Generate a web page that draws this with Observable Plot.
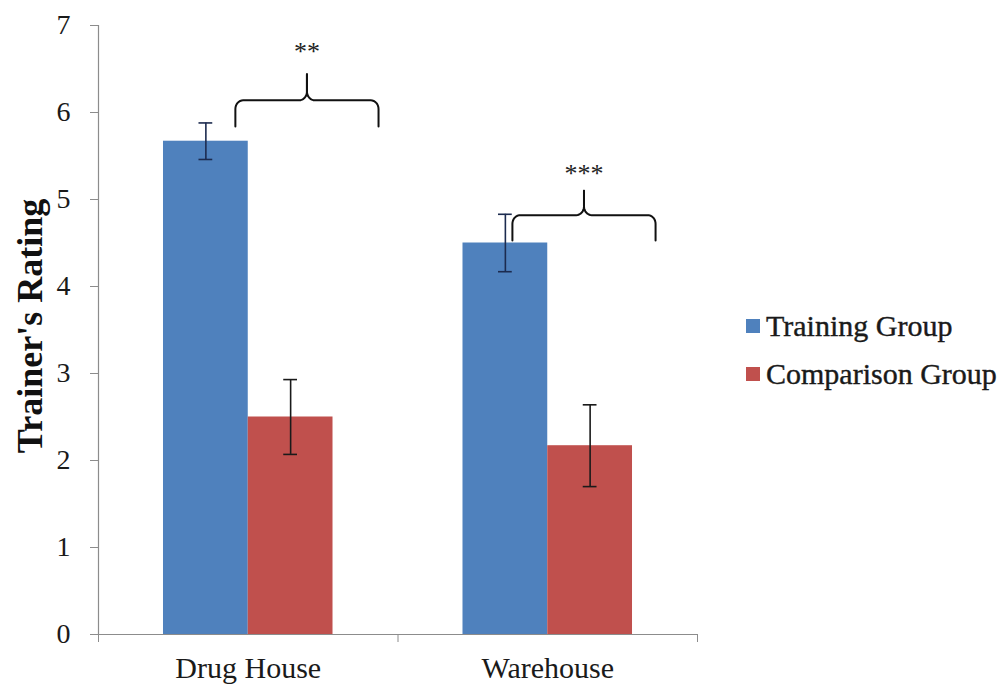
<!DOCTYPE html>
<html>
<head>
<meta charset="utf-8">
<script src="https://cdn.jsdelivr.net/npm/d3@7"></script>
<script src="https://cdn.jsdelivr.net/npm/@observablehq/plot@0.6"></script>
<style>
  html, body { margin: 0; padding: 0; background: #fff; }
  #wrap { position: relative; width: 1006px; height: 684px; }
  #legend { position: absolute; left: 746px; top: 302px; font-family: "Liberation Serif", serif; font-size: 30px; color: #1a1a1a; -webkit-text-stroke: 0.4px #1a1a1a; }
  .item { display: flex; align-items: center; height: 48px; white-space: nowrap; }
  .sw { width: 14px; height: 14px; margin-right: 6px; display: inline-block; }
</style>
</head>
<body>
<div id="wrap"><div id="legend"></div></div>
<script>
// ---- data ----
const categories = ["Drug House", "Warehouse"];
const groups = ["Training Group", "Comparison Group"];
const trainingMeans = [5.67, 4.50];
const comparisonMeans = [2.50, 2.17];
const trainingErr = [0.21, 0.33];
const comparisonErr = [0.43, 0.47];
const groupColors = ["#4f81bd", "#c0504d"];
const errColors = ["#1c2b4f", "#1a1a1a"];
const yTicks = [0, 1, 2, 3, 4, 5, 6, 7];
const yLabel = "Trainer's Rating";

// significance annotations (x in category units, y in rating units)
const significance = ["**", "***"];
const braceStart = [0.457, 1.382];
const braceEnd = [0.935, 1.860];
const braceFoot = [5.84, 4.53];
const braceBar = [6.14, 4.82];
const bracePeak = [6.44, 5.10];
const starY = [6.70, 5.30];

// ---- build tables ----
const barW = 0.283;
const series = [trainingMeans, comparisonMeans];
const errs = [trainingErr, comparisonErr];
const bars = [];
categories.forEach((c, i) => {
  groups.forEach((g, j) => {
    const x1 = i + 0.5 - barW + j * barW;
    bars.push({category: c, group: g, x1, x2: x1 + barW, xc: x1 + barW / 2,
      value: series[j][i], lo: series[j][i] - errs[j][i], hi: series[j][i] + errs[j][i],
      fill: groupColors[j], errColor: errColors[j]});
  });
});

// curly braces
const rx = 0.026, ry = 0.10, steps = 8;
const braces = [];
function arc(id, cx, cy, a0, a1) {
  for (let k = 0; k <= steps; k++) {
    const t = (a0 + (a1 - a0) * k / steps) * Math.PI / 180;
    braces.push({id, x: cx + rx * Math.cos(t), y: cy + ry * Math.sin(t)});
  }
}
significance.forEach((s, i) => {
  const x0 = braceStart[i], x1 = braceEnd[i], xc = (x0 + x1) / 2;
  const yb = braceFoot[i], yh = braceBar[i], yp = bracePeak[i];
  const L = "L" + i, R = "R" + i;
  braces.push({id: L, x: x0, y: yb});
  arc(L, x0 + rx, yh - ry, 180, 90);
  arc(L, xc - rx, yh + ry, -90, 0);
  braces.push({id: L, x: xc, y: yp});
  braces.push({id: R, x: xc, y: yp});
  arc(R, xc + rx, yh + ry, 180, 270);
  arc(R, x1 - rx, yh - ry, 90, 0);
  braces.push({id: R, x: x1, y: yb});
});

const axisGray = "#8c8c8c";

const chart = Plot.plot({
  width: 1006,
  height: 684,
  marginLeft: 98,
  marginRight: 309,
  marginTop: 25,
  marginBottom: 50,
  x: {domain: [0, 2], axis: null},
  y: {domain: [0, 7], axis: null},
  style: {fontFamily: "'Liberation Serif', serif", background: "#fff", color: "#1a1a1a"},
  marks: [
    Plot.rectY(bars, {x1: "x1", x2: "x2", y: "value", fill: "fill"}),
    Plot.ruleX(bars, {x: "xc", y1: "lo", y2: "hi", stroke: "errColor", strokeWidth: 1.6}),
    Plot.ruleY(bars, {y: "lo", x1: d => d.xc - 0.023, x2: d => d.xc + 0.023, stroke: "errColor", strokeWidth: 1.6}),
    Plot.ruleY(bars, {y: "hi", x1: d => d.xc - 0.023, x2: d => d.xc + 0.023, stroke: "errColor", strokeWidth: 1.6}),
    Plot.ruleX([0], {y1: 0, y2: 7, stroke: axisGray, strokeWidth: 1.2}),
    Plot.ruleY([0], {x1: 0, x2: 2, stroke: axisGray, strokeWidth: 1.2}),
    Plot.axisY(yTicks, {tickSize: 8, tickPadding: 20, fontSize: 28, stroke: axisGray, fill: "#1a1a1a", label: null, tickFormat: d3.format("d")}),
    Plot.axisX([0, 1, 2], {tickSize: 8, tickFormat: () => "", stroke: axisGray, label: null}),
    Plot.axisX([0.5, 1.5], {tickSize: 0, tickPadding: 22, fontSize: 30, fill: "#1a1a1a", label: null,
      tickFormat: d => categories[Math.floor(d)]}),
    Plot.line(braces, {x: "x", y: "y", z: "id", stroke: "#111", strokeWidth: 2}),
    Plot.text(significance, {x: (d, i) => (braceStart[i] + braceEnd[i]) / 2, y: (d, i) => starY[i], text: d => d, fontSize: 26, fill: "#222"}),
    Plot.text([yLabel], {frameAnchor: "left", textAnchor: "middle", rotate: -90, dx: -68, dy: -4, text: d => d, fontSize: 36, fontWeight: "bold", fill: "#111"})
  ]
});
document.getElementById("wrap").prepend(chart);

const legend = document.getElementById("legend");
groups.forEach((g, j) => {
  const item = document.createElement("div");
  item.className = "item";
  const sw = document.createElement("span");
  sw.className = "sw";
  sw.style.background = groupColors[j];
  const label = document.createElement("span");
  label.textContent = g;
  item.append(sw, label);
  legend.append(item);
});
</script>
</body>
</html>
